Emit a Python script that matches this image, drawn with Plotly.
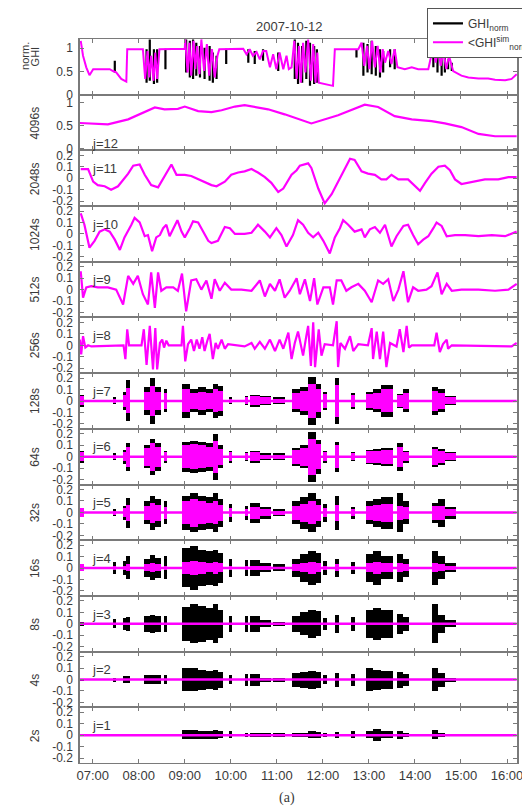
import plotly.graph_objects as go
from plotly.subplots import make_subplots

# ---------------- data (time in decimal hours, values normalised) ----------------
t_start, t_end = 6.72, 16.21
hour_ticks = [7, 8, 9, 10, 11, 12, 13, 14, 15, 16]
hour_labels = ["07:00", "08:00", "09:00", "10:00", "11:00", "12:00", "13:00", "14:00", "15:00", "16:00"]
scale_labels = ["4096s", "2048s", "1024s", "512s", "256s", "128s", "64s", "32s", "16s", "8s", "4s", "2s"]
j_labels = ["j=12", "j=11", "j=10", "j=9", "j=8", "j=7", "j=6", "j=5", "j=4", "j=3", "j=2", "j=1"]
detail_ticks = [-0.2, -0.1, 0, 0.1, 0.2]
detail_tick_labels = ["-0.2", "-0.1", "0", "0.1", "0.2"]
top_ticks = [0, 0.5, 1]
top_tick_labels = ["0", "0.5", "1"]

# top panel: simulated normalised GHI (magenta)
ghi_sim_t = [6.74, 6.79, 6.86, 6.93, 7.01, 7.37, 7.44, 7.51, 7.62, 7.73,
             7.75, 8.09, 8.14, 8.19, 8.23, 8.27, 8.32, 8.36, 8.40, 8.45,
             9.00, 9.01, 9.06, 9.10, 9.14, 9.19, 9.23, 9.27, 9.32, 9.36,
             9.42, 9.48, 9.53, 9.59, 9.65, 9.71, 9.75, 10.27, 10.34, 10.41,
             10.48, 10.56, 10.63, 10.70, 10.77, 10.85, 10.92, 10.99, 11.06, 11.14,
             11.21, 11.26, 11.32, 11.38, 11.43, 11.48, 11.52, 11.57, 11.62, 11.68,
             11.74, 11.79, 11.84, 11.88, 11.91, 12.08, 12.22, 12.26, 12.77, 12.84,
             12.90, 12.96, 13.01, 13.07, 13.13, 13.19, 13.25, 13.30, 13.35, 13.42,
             13.49, 13.56, 13.62, 13.78, 13.93, 14.07, 14.29, 14.40, 14.45, 14.51,
             14.56, 14.62, 14.68, 14.74, 14.80, 14.83, 15.01, 15.16, 15.38, 15.59,
             15.74, 15.96, 16.10, 16.21]
ghi_sim_v = [1.16, 0.84, 0.59, 0.42, 0.55, 0.55, 0.51, 0.48, 0.34, 0.28,
             0.98, 0.98, 0.34, 0.94, 0.37, 0.84, 0.30, 0.91, 0.34, 0.98,
             0.99, 1.19, 0.48, 1.12, 0.41, 1.16, 0.55, 1.05, 0.44, 1.19,
             0.51, 1.09, 0.41, 0.98, 0.37, 0.84, 0.98, 0.99, 0.87, 0.98,
             0.84, 0.92, 0.76, 0.94, 0.94, 0.59, 0.87, 0.55, 0.91, 0.55,
             0.84, 0.55, 0.59, 1.16, 0.34, 1.05, 0.26, 1.12, 0.48, 1.19,
             0.30, 1.09, 0.26, 0.91, 0.26, 0.23, 0.19, 0.98, 0.98, 1.12,
             0.62, 1.05, 0.55, 1.16, 0.59, 1.05, 0.48, 0.98, 0.69, 0.94,
             0.66, 0.98, 0.59, 0.55, 0.59, 0.55, 0.55, 1.05, 0.69, 0.98,
             0.62, 0.94, 0.55, 0.84, 0.59, 0.51, 0.41, 0.37, 0.35, 0.35,
             0.32, 0.31, 0.34, 0.44]

# top panel: measured normalised GHI excursions (black)
ghi_obs_t = [7.48, 8.17, 8.24, 8.33, 8.40, 8.58, 9.03, 9.11, 9.18, 9.25,
             9.33, 9.43, 9.54, 9.61, 9.69, 9.90, 10.38, 10.52, 10.70, 11.03,
             11.39, 11.46, 11.55, 11.64, 11.72, 11.81, 11.87, 12.73, 12.88, 12.97,
             13.06, 13.15, 13.24, 13.31, 13.46, 13.56, 14.40, 14.49, 14.58, 14.65,
             14.72, 14.80]
ghi_obs_lo = [0.48, 0.26, 0.30, 0.23, 0.26, 0.55, 0.48, 0.37, 0.34, 0.41,
              0.37, 0.34, 0.30, 0.26, 0.34, 0.66, 0.69, 0.66, 0.73, 0.51,
              0.34, 0.23, 0.26, 0.34, 0.19, 0.23, 0.26, 0.80, 0.41, 0.48,
              0.44, 0.41, 0.37, 0.48, 0.59, 0.55, 0.59, 0.48, 0.41, 0.48,
              0.55, 0.51]
ghi_obs_hi = [0.73, 0.98, 1.19, 0.98, 0.98, 0.99, 1.19, 1.16, 1.19, 1.12,
              1.05, 1.01, 1.05, 0.91, 0.84, 0.99, 0.98, 0.94, 0.98, 0.91,
              1.19, 1.12, 1.05, 1.16, 1.12, 1.05, 0.98, 0.98, 1.12, 1.09,
              1.16, 1.05, 0.98, 0.94, 0.98, 0.98, 1.05, 0.98, 0.91, 0.94,
              0.76, 0.69]

# j=12 approximation (4096 s)
a12_t = [6.72, 7.33, 7.77, 8.35, 8.56, 8.85, 9.00, 9.29, 9.58, 9.80,
         10.09, 10.30, 10.81, 11.17, 11.75, 12.33, 12.91, 13.20, 13.56, 13.93,
         14.36, 14.65, 15.01, 15.38, 15.74, 16.21]
a12_v = [0.56, 0.53, 0.64, 0.90, 0.86, 0.87, 0.92, 0.82, 0.80, 0.84,
         0.92, 0.95, 0.86, 0.75, 0.55, 0.73, 0.96, 0.91, 0.71, 0.64,
         0.60, 0.55, 0.47, 0.32, 0.27, 0.27]

# j=11 detail (2048 s)
d11_t = [6.74, 6.90, 7.01, 7.11, 7.26, 7.40, 7.55, 7.77, 7.88, 8.02,
         8.13, 8.27, 8.42, 8.53, 8.64, 8.71, 8.82, 9.00, 9.14, 9.36,
         9.58, 9.69, 9.87, 10.01, 10.16, 10.30, 10.45, 10.59, 10.74, 10.88,
         11.03, 11.14, 11.32, 11.43, 11.50, 11.68, 11.75, 11.90, 12.04, 12.19,
         12.33, 12.48, 12.59, 12.69, 12.84, 12.98, 13.13, 13.27, 13.38, 13.49,
         13.64, 13.85, 14.00, 14.11, 14.22, 14.36, 14.51, 14.65, 14.76, 14.87,
         15.01, 15.23, 15.52, 15.81, 16.03, 16.21]
d11_v = [0.08, 0.08, -0.03, -0.06, -0.07, -0.10, -0.07, 0.04, 0.11, 0.12,
         0.03, -0.06, -0.08, 0.0, 0.07, 0.12, 0.03, 0.03, 0.02, -0.02,
         -0.06, -0.07, -0.03, 0.03, 0.05, 0.06, 0.08, 0.05, 0.01, -0.04,
         -0.12, -0.09, 0.03, 0.07, 0.11, 0.13, 0.09, -0.09, -0.22, -0.14,
         -0.03, 0.09, 0.17, 0.16, 0.06, 0.04, 0.03, -0.01, -0.01, 0.03,
         -0.01, -0.01, -0.07, -0.11, -0.04, 0.04, 0.10, 0.11, 0.07, -0.01,
         -0.05, -0.03, -0.01, -0.01, 0.01, 0.01]

# j=10 detail (1024 s)
d10_t = [6.74, 6.82, 6.93, 7.04, 7.15, 7.26, 7.37, 7.48, 7.59, 7.69,
         7.84, 7.91, 8.02, 8.13, 8.20, 8.29, 8.38, 8.46, 8.53, 8.60,
         8.67, 8.75, 8.84, 8.93, 9.00, 9.11, 9.18, 9.29, 9.40, 9.51,
         9.58, 9.72, 9.87, 9.98, 10.09, 10.30, 10.45, 10.59, 10.74, 10.85,
         10.99, 11.10, 11.21, 11.35, 11.46, 11.57, 11.68, 11.79, 11.90, 12.01,
         12.15, 12.26, 12.37, 12.44, 12.55, 12.69, 12.84, 12.91, 13.02, 13.13,
         13.24, 13.35, 13.49, 13.60, 13.75, 13.85, 13.96, 14.07, 14.18, 14.29,
         14.40, 14.47, 14.58, 14.69, 14.87, 15.09, 15.38, 15.67, 15.96, 16.21]
d10_v = [0.18, 0.08, -0.12, -0.06, 0.02, 0.04, 0.02, -0.05, -0.14, -0.03,
         0.08, 0.14, 0.10, -0.02, -0.01, -0.15, -0.03, -0.01, 0.05, 0.08,
         -0.02, 0.05, 0.12, 0.02, -0.03, 0.05, 0.11, 0.10, 0.02, -0.06,
         -0.08, -0.06, 0.06, 0.05, 0.0, 0.0, 0.01, 0.08, 0.02, -0.03,
         0.05, -0.01, -0.11, -0.01, 0.12, 0.08, 0.01, -0.03, 0.01, -0.06,
         -0.17, -0.03, 0.05, 0.12, 0.08, 0.02, 0.04, -0.03, 0.04, 0.06,
         0.01, 0.08, -0.11, -0.02, 0.07, 0.08, -0.01, -0.09, -0.05, -0.02,
         0.05, 0.10, 0.07, -0.02, -0.01, -0.01, -0.02, -0.01, -0.02, 0.02]

# j=9 detail (512 s)
d9_t = [6.74, 6.79, 6.86, 6.97, 7.11, 7.33, 7.51, 7.66, 7.77, 7.88,
        7.98, 8.09, 8.20, 8.27, 8.35, 8.42, 8.49, 8.60, 8.75, 8.85,
        8.94, 9.03, 9.14, 9.25, 9.36, 9.47, 9.58, 9.65, 9.76, 9.87,
        10.01, 10.23, 10.45, 10.63, 10.74, 10.85, 10.96, 11.06, 11.17, 11.28,
        11.43, 11.50, 11.61, 11.72, 11.81, 11.88, 12.01, 12.15, 12.22, 12.30,
        12.40, 12.51, 12.62, 12.77, 12.91, 13.06, 13.20, 13.31, 13.42, 13.53,
        13.64, 13.75, 13.85, 13.96, 14.07, 14.25, 14.36, 14.49, 14.58, 14.69,
        14.80, 15.01, 15.38, 15.74, 16.03, 16.21]
d9_v = [0.16, -0.07, 0.02, 0.03, 0.02, 0.02, 0.0, -0.13, 0.12, 0.05,
        0.12, -0.04, -0.13, 0.15, -0.16, 0.15, -0.01, 0.02, 0.02, -0.01,
        0.14, -0.19, 0.08, 0.09, 0.0, 0.08, -0.08, 0.09, -0.01, 0.06,
        0.0, 0.0, -0.01, 0.08, -0.06, 0.05, -0.01, 0.09, -0.07, -0.01,
        0.10, -0.04, 0.09, -0.10, 0.10, -0.13, 0.02, 0.02, -0.13, 0.08,
        0.08, -0.01, 0.02, 0.05, -0.01, -0.11, 0.08, 0.05, 0.09, -0.10,
        0.0, 0.16, -0.11, 0.02, -0.01, 0.0, 0.03, 0.15, -0.04, 0.05,
        -0.01, 0.0, 0.0, -0.01, 0.0, 0.05]

# j=8 detail (256 s)
d8_t = [6.72, 6.75, 6.79, 6.84, 6.90, 6.97, 7.67, 7.71, 7.75, 7.79,
        8.06, 8.11, 8.17, 8.24, 8.31, 8.36, 8.40, 8.46, 8.51, 8.55,
        8.60, 8.65, 8.93, 8.96, 9.01, 9.07, 9.14, 9.20, 9.26, 9.32,
        9.38, 9.43, 9.49, 9.54, 9.61, 9.67, 9.72, 9.80, 9.87, 9.94,
        10.30, 10.45, 10.52, 10.63, 10.74, 10.85, 10.96, 11.06, 11.14, 11.25,
        11.32, 11.39, 11.46, 11.57, 11.64, 11.68, 11.74, 11.79, 11.83, 11.91,
        11.97, 12.04, 12.22, 12.30, 12.33, 12.38, 12.48, 12.59, 12.66, 12.77,
        12.98, 13.06, 13.09, 13.17, 13.24, 13.31, 13.38, 13.46, 13.60, 13.67,
        13.75, 13.82, 13.87, 13.93, 14.42, 14.47, 14.54, 14.61, 14.69, 14.72,
        14.80, 16.10, 16.21]
d8_v = [0.05, -0.08, 0.08, -0.02, 0.0, -0.01, 0.0, -0.12, 0.14, 0.0,
        0.0, 0.14, -0.17, 0.17, -0.21, 0.15, -0.21, 0.02, 0.05, -0.02,
        0.04, 0.0, 0.0, 0.17, -0.14, 0.01, 0.05, -0.05, 0.05, -0.03,
        0.07, -0.05, 0.04, 0.10, -0.12, 0.02, -0.03, 0.05, -0.03, 0.01,
        -0.01, 0.02, -0.03, 0.03, -0.03, 0.05, -0.05, 0.05, -0.03, 0.11,
        -0.12, 0.02, 0.12, -0.09, 0.08, 0.17, -0.18, 0.20, -0.19, 0.14,
        -0.09, 0.01, 0.0, 0.21, -0.19, 0.02, -0.03, 0.08, -0.05, 0.01,
        0.0, 0.15, -0.12, 0.12, -0.12, 0.12, -0.19, 0.02, -0.01, 0.14,
        -0.06, 0.17, -0.02, 0.0, 0.0, 0.11, -0.06, 0.01, 0.05, -0.03,
        0.0, -0.01, 0.02]

# fine-scale bursts (cloud passages): start / end times and half amplitudes per level
burst_t0 = [6.72, 7.44, 7.66, 7.73, 8.11, 8.24, 8.36, 8.55, 8.95, 9.11,
            9.29, 9.47, 9.61, 9.72, 9.96, 10.30, 10.41, 10.63, 10.92, 11.33,
            11.50, 11.68, 11.84, 12.01, 12.26, 12.61, 12.93, 13.09, 13.27, 13.62,
            13.75, 14.38, 14.51, 14.65]
burst_t1 = [6.80, 7.51, 7.73, 7.80, 8.24, 8.36, 8.49, 8.61, 9.11, 9.29,
            9.47, 9.61, 9.72, 9.83, 10.03, 10.38, 10.63, 10.88, 11.17, 11.50,
            11.68, 11.84, 11.96, 12.08, 12.35, 12.69, 13.09, 13.27, 13.53, 13.75,
            13.87, 14.51, 14.65, 14.90]
obs_j7 = [0.05, 0.03, 0.08, 0.18, 0.12, 0.2, 0.12, 0.1, 0.15, 0.1, 0.12, 0.1, 0.15, 0.13, 0.03, 0.04, 0.05,
          0.04, 0.03, 0.1, 0.12, 0.21, 0.15, 0.08, 0.2, 0.07, 0.08, 0.1, 0.14, 0.06, 0.1, 0.12, 0.1, 0.04]
sim_j7 = [0.04, 0.02, 0.05, 0.11, 0.08, 0.13, 0.08, 0.07, 0.1, 0.07, 0.08, 0.07, 0.1, 0.09, 0.02, 0.03, 0.04,
          0.03, 0.02, 0.07, 0.09, 0.15, 0.1, 0.06, 0.14, 0.05, 0.06, 0.07, 0.1, 0.05, 0.07, 0.09, 0.07, 0.03]
obs_j6 = [0.05, 0.03, 0.06, 0.12, 0.1, 0.16, 0.12, 0.05, 0.13, 0.14, 0.13, 0.12, 0.2, 0.1, 0.05, 0.04, 0.05,
          0.03, 0.03, 0.08, 0.1, 0.22, 0.15, 0.05, 0.13, 0.04, 0.06, 0.07, 0.08, 0.12, 0.05, 0.09, 0.07, 0.04]
sim_j6 = [0.04, 0.02, 0.04, 0.09, 0.08, 0.12, 0.09, 0.04, 0.1, 0.11, 0.1, 0.09, 0.14, 0.07, 0.04, 0.03, 0.04,
          0.02, 0.02, 0.06, 0.08, 0.16, 0.11, 0.04, 0.1, 0.03, 0.05, 0.05, 0.06, 0.09, 0.04, 0.07, 0.05, 0.03]
obs_j5 = [0.04, 0.03, 0.06, 0.13, 0.1, 0.15, 0.12, 0.1, 0.15, 0.17, 0.15, 0.14, 0.17, 0.12, 0.08, 0.06, 0.09,
          0.05, 0.03, 0.1, 0.14, 0.17, 0.12, 0.08, 0.15, 0.05, 0.1, 0.12, 0.14, 0.17, 0.1, 0.09, 0.12, 0.05]
sim_j5 = [0.04, 0.02, 0.04, 0.07, 0.06, 0.09, 0.07, 0.05, 0.1, 0.12, 0.1, 0.09, 0.1, 0.07, 0.04, 0.03, 0.05,
          0.03, 0.02, 0.06, 0.08, 0.1, 0.07, 0.04, 0.07, 0.03, 0.06, 0.07, 0.08, 0.06, 0.05, 0.06, 0.06, 0.03]
obs_j4 = [0.03, 0.05, 0.06, 0.1, 0.08, 0.11, 0.09, 0.1, 0.17, 0.19, 0.16, 0.15, 0.16, 0.13, 0.08, 0.07, 0.07,
          0.04, 0.03, 0.08, 0.12, 0.15, 0.13, 0.06, 0.08, 0.05, 0.12, 0.15, 0.1, 0.12, 0.08, 0.15, 0.1, 0.04]
sim_j4 = [0.03, 0.02, 0.02, 0.03, 0.03, 0.04, 0.03, 0.02, 0.05, 0.06, 0.05, 0.04, 0.05, 0.04, 0.02, 0.02, 0.02,
          0.015, 0.01, 0.03, 0.04, 0.05, 0.04, 0.02, 0.03, 0.02, 0.04, 0.05, 0.04, 0.04, 0.03, 0.04, 0.03, 0.02]
obs_j3 = [0.02, 0.04, 0.05, 0.06, 0.07, 0.08, 0.07, 0.07, 0.15, 0.17, 0.16, 0.14, 0.17, 0.12, 0.07, 0.07, 0.07,
          0.03, 0.02, 0.07, 0.1, 0.12, 0.11, 0.05, 0.08, 0.06, 0.12, 0.14, 0.12, 0.09, 0.06, 0.17, 0.08, 0.03]
obs_j2 = [0.01, 0.02, 0.03, 0.03, 0.04, 0.04, 0.04, 0.04, 0.1, 0.1, 0.09, 0.08, 0.09, 0.07, 0.04, 0.05, 0.05,
          0.02, 0.02, 0.06, 0.07, 0.08, 0.07, 0.04, 0.06, 0.05, 0.1, 0.09, 0.08, 0.07, 0.05, 0.1, 0.06, 0.02]
obs_j1 = [0.005, 0.01, 0.01, 0.01, 0.01, 0.01, 0.01, 0.01, 0.04, 0.04, 0.035, 0.035, 0.04, 0.03, 0.03, 0.02,
          0.02, 0.015, 0.015, 0.02, 0.02, 0.03, 0.025, 0.02, 0.025, 0.03, 0.03, 0.05, 0.03, 0.035, 0.02, 0.04,
          0.02, 0.01]

# ---------------- figure ----------------
MAG = "#ff00ff"
BLK = "#000000"
AX = "#7a7a7a"
TXT = "#3a3a3a"
N = 13

fig = make_subplots(rows=N, cols=1, shared_xaxes=True, vertical_spacing=0)

# row 1: normalised GHI
spk_x, spk_y = [], []
for t, lo, hi in zip(ghi_obs_t, ghi_obs_lo, ghi_obs_hi):
    spk_x += [t, t, None]
    spk_y += [lo, hi, None]
fig.add_trace(go.Scatter(x=spk_x, y=spk_y, mode="lines", line=dict(color=BLK, width=2.2),
                         name="GHI<sub>norm</sub>", hoverinfo="skip"), row=1, col=1)
fig.add_trace(go.Scatter(x=ghi_sim_t, y=ghi_sim_v, mode="lines", line=dict(color=MAG, width=2),
                         name="&lt;GHI<sup>sim</sup><sub>norm</sub>&gt;<sub>p</sub>", hoverinfo="skip"),
              row=1, col=1)

# rows 2-6: smooth scales
for row, (tt, vv) in zip([2, 3, 4, 5, 6], [(a12_t, a12_v), (d11_t, d11_v), (d10_t, d10_v),
                                           (d9_t, d9_v), (d8_t, d8_v)]):
    fig.add_trace(go.Scatter(x=tt, y=vv, mode="lines", line=dict(color=MAG, width=2.2),
                             showlegend=False, hoverinfo="skip"), row=row, col=1)

mid = [(a + b) / 2 for a, b in zip(burst_t0, burst_t1)]
wid = [b - a for a, b in zip(burst_t0, burst_t1)]


def add_bursts(row, amps, color):
    fig.add_trace(go.Bar(x=mid, y=[2 * a for a in amps], base=[-a for a in amps], width=wid,
                         marker=dict(color=color, line=dict(width=0)), showlegend=False,
                         hoverinfo="skip"), row=row, col=1)


burst_rows = [
    (7, obs_j7, sim_j7),
    (8, obs_j6, sim_j6),
    (9, obs_j5, sim_j5),
    (10, obs_j4, sim_j4),
    (11, obs_j3, None),
    (12, obs_j2, None),
    (13, obs_j1, None),
]
for row, obs, sim in burst_rows:
    add_bursts(row, obs, BLK)
    if sim is not None:
        add_bursts(row, sim, MAG)
    fig.add_trace(go.Scatter(x=[t_start, t_end], y=[0, 0], mode="lines", line=dict(color=MAG, width=2.5),
                             showlegend=False, hoverinfo="skip"), row=row, col=1)

# axes
for r in range(1, N + 1):
    if r == 1:
        yr, tv, tt = [0, 1.2], top_ticks, top_tick_labels
    elif r == 2:
        yr, tv, tt = [-0.04, 1.18], top_ticks, top_tick_labels
    else:
        yr, tv, tt = [-0.243, 0.243], detail_ticks, detail_tick_labels
    fig.update_yaxes(row=r, col=1, range=yr, tickvals=tv, ticktext=tt, ticks="inside", ticklen=4,
                     tickcolor=AX, tickwidth=1, showline=True, linecolor=AX, linewidth=1.5,
                     mirror="allticks", showgrid=False, zeroline=False, ticklabelstandoff=3,
                     tickfont=dict(family="Liberation Sans", size=12, color=TXT), fixedrange=True)
    fig.update_xaxes(row=r, col=1, range=[6.724, 16.217], tickvals=hour_ticks, ticktext=hour_labels,
                     ticks="inside", ticklen=4, tickcolor=AX, tickwidth=1, showline=True, linecolor=AX,
                     linewidth=1, mirror="allticks", showgrid=False, zeroline=False,
                     showticklabels=(r == N),
                     tickfont=dict(family="Liberation Sans", size=13, color=TXT))

annotations = []
# y-axis titles
ytop = 1 - 0.5 / N + 0.015
annotations.append(dict(text="norm.", x=-0.126, y=ytop, xref="paper", yref="paper", xanchor="center",
                        yanchor="middle", textangle=-90, showarrow=False, font=dict(size=11, color=TXT)))
annotations.append(dict(text="GHI", x=-0.102, y=ytop, xref="paper", yref="paper", xanchor="center",
                        yanchor="middle", textangle=-90, showarrow=False, font=dict(size=11, color=TXT)))
for i, lab in enumerate(scale_labels):
    row = i + 2
    annotations.append(dict(text=lab, x=-0.103, y=1 - (row - 0.5) / N, xref="paper", yref="paper",
                            xanchor="center", yanchor="middle", textangle=-90, showarrow=False,
                            font=dict(size=12, color=TXT)))
# title and caption
annotations.append(dict(text="2007-10-12", x=0.48, y=1.0166, xref="paper", yref="paper",
                        xanchor="center", yanchor="middle", showarrow=False, font=dict(size=13, color=TXT)))
annotations.append(dict(text="(a)", x=0.474, y=-0.048, xref="paper", yref="paper", xanchor="center",
                        yanchor="middle", showarrow=False,
                        font=dict(family="Liberation Serif", size=14, color=TXT)))
fig.update_layout(annotations=annotations)

# j labels
for i, lab in enumerate(j_labels):
    row = i + 2
    fig.add_annotation(text=lab, x=6.94, y=(0.1 if row == 2 else 0.085), xanchor="left",
                       showarrow=False, font=dict(size=13, color=TXT), row=row, col=1)

# the page body adds an 8 px offset, so the figure is drawn 8 px smaller with margins shifted
fig.update_layout(
    width=522, height=798,
    margin=dict(l=72, r=13, t=31, b=43, autoexpand=False),
    paper_bgcolor="white", plot_bgcolor="white",
    font=dict(family="Liberation Sans", size=12, color=TXT),
    barmode="overlay", bargap=0,
    legend=dict(x=0.794, y=1.043, xanchor="left", yanchor="top", bgcolor="white",
                bordercolor="#555555", borderwidth=1, font=dict(size=12, color=TXT),
                itemwidth=30, tracegroupgap=0),
)

fig.write_html("out.html")
